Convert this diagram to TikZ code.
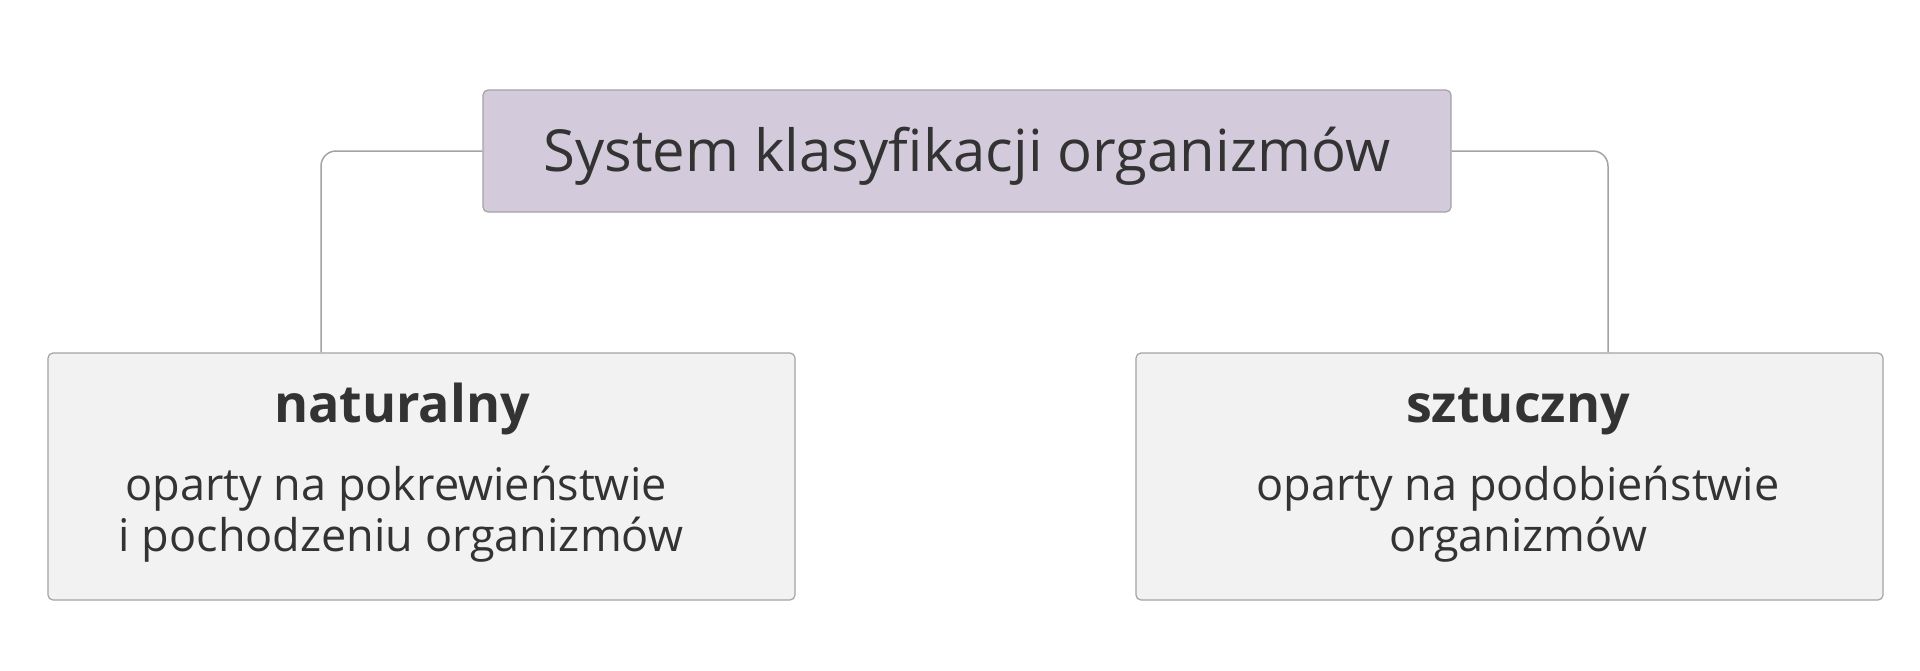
\documentclass[tikz,border=0pt]{standalone}
\usepackage{fontspec}
\setmainfont{Open Sans}
\usetikzlibrary{positioning}
\definecolor{rootfill}{HTML}{D3CADB}
\definecolor{leaffill}{HTML}{F2F2F2}
\definecolor{edge}{HTML}{A3A3A3}
\definecolor{ink}{HTML}{333333}
\begin{document}
\begin{tikzpicture}[x=1pt,y=1pt,
  root/.style={draw=edge,fill=rootfill,rounded corners=5pt,line width=1.2pt,minimum width=968pt,minimum height=122pt},
  leaf/.style={draw=edge,fill=leaffill,rounded corners=5pt,line width=1.2pt,minimum width=747pt,minimum height=247pt},
  link/.style={draw=edge,line width=1.5pt,rounded corners=15pt},
  title/.style={text=ink,anchor=base,inner sep=0pt,font=\fontsize{58}{70}\selectfont},
  head/.style={text=ink,anchor=base,inner sep=0pt,font=\fontsize{52}{62}\selectfont\bfseries},
  body/.style={text=ink,anchor=base,inner sep=0pt,font=\fontsize{45}{54}\selectfont}]
\useasboundingbox (0,0) rectangle (1920,-670);
% boxes
\node[root] (sys) at (967,-151) {};
\node[leaf] (nat) at (421.5,-476.5) {};
\node[leaf] (szt) at (1509.5,-476.5) {};
% links
\draw[link] (sys.west) -| ([xshift=-100.5pt]nat.north);
\draw[link] (sys.east) -| ([xshift=98.5pt]szt.north);
% texts
\node[title] (systxt) at ([yshift=-20pt]sys.center) {System klasyfikacji organizmów};
\node[head] (nathead) at ([xshift=-19.5pt,yshift=54.5pt]nat.center) {naturalny};
\node[body] (natl1) at ([xshift=-6pt,yshift=-78pt]nathead.base) {oparty na pokrewieństwie};
\node[body] (natl2) at ([xshift=5pt,yshift=-51pt]natl1.base) {i pochodzeniu organizmów};
\node[head] (szthead) at ([xshift=8.5pt,yshift=54.5pt]szt.center) {sztuczny};
\node[body] (sztl1) at ([yshift=-78pt]szthead.base) {oparty na podobieństwie};
\node[body] (sztl2) at ([yshift=-51pt]sztl1.base) {organizmów};
\end{tikzpicture}
\end{document}
